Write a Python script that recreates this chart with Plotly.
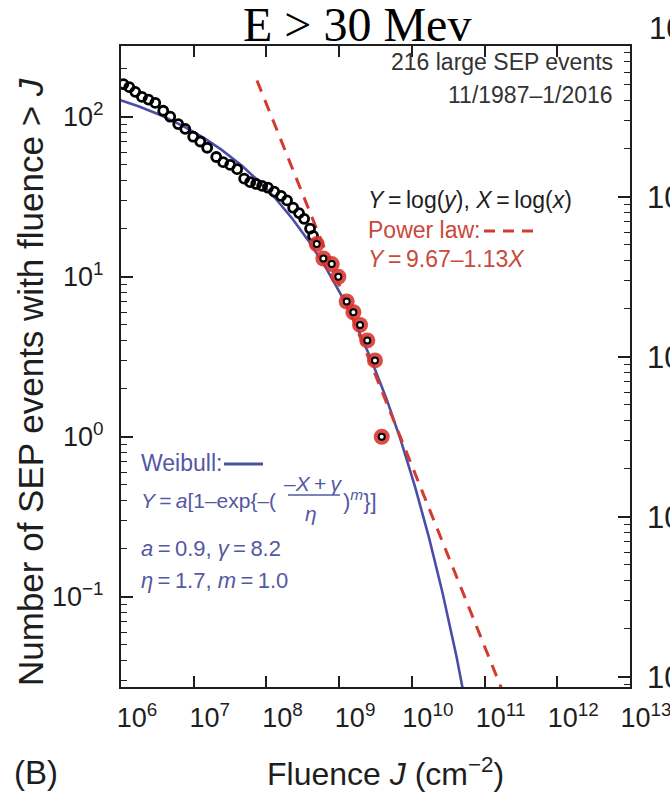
import numpy as np
import plotly.graph_objects as go

# ---- Observed cumulative counts (E > 30 MeV), 11/1987 - 1/2016 ----
fluence_obs = [1.08e6, 1.30e6, 1.57e6, 1.94e6, 2.39e6, 2.96e6, 3.81e6, 4.75e6,
               6.12e6, 7.64e6, 9.84e6, 1.23e7, 1.53e7, 2.04e7, 2.54e7, 3.17e7,
               3.96e7, 4.94e7, 5.97e7, 7.23e7, 8.73e7, 1.05e8, 1.28e8, 1.59e8,
               1.92e8, 2.33e8, 2.81e8, 3.30e8, 3.98e8, 4.38e8]
count_obs = [160, 153, 143, 133, 128, 122, 109, 100,
             90, 84, 75, 70, 64, 56, 52, 50,
             47, 41, 39, 38, 37, 36, 34, 32,
             30, 27, 25, 23, 20, 18]

# Largest events used in the power-law tail fit
fluence_tail = [4.92e8, 6.07e8, 7.91e8, 9.75e8, 1.27e9, 1.57e9, 1.94e9,
                2.44e9, 3.11e9, 3.85e9]
count_tail = [16, 13, 12, 10, 7, 6, 5, 4, 3, 1]

# ---- Fit parameters (Y = log of yearly rate, X = log fluence) ----
start_year, start_month = 1987, 11
end_year, end_month = 2016, 1
record_years = (end_year + (end_month - 1) / 12) - (start_year + (start_month - 1) / 12)

pl_intercept, pl_slope = 9.67, -1.13
wb_a, wb_gamma, wb_eta, wb_m = 0.9, 8.2, 1.7, 1.0

X_wb = np.arange(5.9, 10.9, 0.01)
Y_wb = wb_a * (1 - np.exp(-(((-X_wb + wb_gamma) / wb_eta) ** wb_m)))
N_wb = record_years * 10 ** Y_wb

X_pl = np.arange(7.87, 11.6, 0.01)
Y_pl = pl_intercept + pl_slope * X_pl
N_pl = record_years * 10 ** Y_pl

# ---- axis ranges (log10) and tick decades ----
x_range = [6.0, 13.0]
y_range = [-1.564, 2.442]
x_decades = [6, 7, 8, 9, 10, 11, 12, 13]
y_decades = [-1, 0, 1, 2]
right_offset = 0.5
y2_decades = [-1, 0, 1, 2]


def pow_label(k):
    return "10<sup>%s</sup>" % (str(k).replace("-", "−"))


BLUE = "#4b4ea6"
BLUE_TXT = "#5557a3"
RED = "#d23b30"
RED_TXT = "#c9493c"
INK = "#1e1e1e"
SANS = "Liberation Sans, Arial, sans-serif"

W, H = 670, 795
ML, MR, MT, MB = 121, 40, 46, 108
PW, PH = W - ML - MR, H - MT - MB


def fx(p):
    return (p - ML) / PW


def fy(p):
    return (H - MB - p) / PH


fig = go.Figure()

fig.add_trace(go.Scatter(x=10 ** X_wb, y=N_wb, mode="lines",
                         line=dict(color=BLUE, width=2.6), hoverinfo="skip"))
fig.add_trace(go.Scatter(x=10 ** X_pl, y=N_pl, mode="lines",
                         line=dict(color=RED, width=3, dash="12px,9px"),
                         hoverinfo="skip"))
fig.add_trace(go.Scatter(x=fluence_obs, y=count_obs, mode="markers",
                         marker=dict(symbol="circle-open", size=9, color="black",
                                     line=dict(color="black", width=2.8))))
fig.add_trace(go.Scatter(x=fluence_tail, y=count_tail, mode="markers",
                         marker=dict(symbol="circle", size=16, color="rgba(214,52,44,0.88)",
                                     line=dict(width=0))))
fig.add_trace(go.Scatter(x=fluence_tail, y=count_tail, mode="markers",
                         marker=dict(symbol="circle", size=6, color="white",
                                     line=dict(color="black", width=2))))
fig.add_trace(go.Scatter(x=[], y=[], yaxis="y2", mode="markers"))

tick_font = dict(family=SANS, size=27, color=INK)
fig.update_layout(
    width=W, height=H,
    margin=dict(l=ML, r=MR, t=MT, b=MB, autoexpand=False),
    paper_bgcolor="white", plot_bgcolor="white",
    showlegend=False,
    xaxis=dict(type="log", range=x_range, automargin=False,
               tickmode="array", tickvals=[10 ** k for k in x_decades],
               ticktext=[pow_label(k) for k in x_decades], tickangle=0,
               showgrid=False, zeroline=False,
               showline=True, linecolor=INK, linewidth=2, mirror="ticks",
               ticks="inside", ticklen=11, tickwidth=1.5, tickcolor=INK,
               tickfont=tick_font, ticklabelshift=16, ticklabelstandoff=6,
               ticklabeloverflow="allow"),
    yaxis=dict(type="log", range=y_range, automargin=False,
               tickmode="array", tickvals=[10.0 ** k for k in y_decades],
               ticktext=[pow_label(k) for k in y_decades],
               showgrid=False, zeroline=False,
               showline=True, linecolor=INK, linewidth=2, mirror=True,
               ticks="inside", ticklen=12, tickwidth=1.5, tickcolor=INK,
               minor=dict(ticks="inside", ticklen=6, tickwidth=1.2, tickcolor=INK,
                          dtick="D1", showgrid=False),
               tickfont=tick_font, ticklabelstandoff=10),
    yaxis2=dict(type="log", overlaying="y", side="right", anchor="x", automargin=False,
                range=[y_range[0] + right_offset, y_range[1] + right_offset],
                tickmode="array", tickvals=[10.0 ** k for k in y2_decades],
                ticktext=[pow_label(k) for k in y2_decades],
                showgrid=False, zeroline=False, showline=False,
                ticks="inside", ticklen=12, tickwidth=1.5, tickcolor=INK,
                minor=dict(ticks="inside", ticklen=6, tickwidth=1.2, tickcolor=INK,
                           dtick="D1", showgrid=False),
                tickfont=dict(family=SANS, size=31, color=INK), ticklabelstandoff=16,
                ticklabeloverflow="allow"),
)

ann = []
TS = "\u2009"  # thin space


def add_text(text, x, y, size=23, color=INK, xanchor="left", family=SANS, angle=0):
    ann.append(dict(text=text, x=fx(x), y=fy(y), xref="paper", yref="paper",
                    showarrow=False, xanchor=xanchor, yanchor="middle",
                    textangle=angle, font=dict(family=family, size=size, color=color)))


add_text("E &gt; 30 Mev", 357, 24, size=48, xanchor="center",
         family="Liberation Serif, Times New Roman, serif", color="black")
add_text("Number of SEP events with fluence &gt; <i>J</i>", 30, 382, size=35,
         xanchor="center", angle=-90)
add_text("Fluence <i>J</i> (cm<sup>−2</sup>)", 385, 772, size=32, xanchor="center")
add_text("(B)", 36, 773, size=33, xanchor="center")
add_text("10", 647, 29, size=31, xanchor="left")

add_text("216 large SEP events", 615, 62, color="#333333", xanchor="right")
add_text("11/1987–1/2016", 615, 95, color="#333333", xanchor="right")
add_text(f"<i>Y</i>{TS}={TS}log(<i>y</i>), <i>X</i>{TS}={TS}log(<i>x</i>)", 366, 200)
add_text("Power law:", 366, 230, color=RED_TXT)
add_text(f"<i>Y</i>{TS}={TS}9.67–1.13<i>X</i>", 366, 259, color=RED_TXT)

add_text("Weibull:", 139, 463, color=BLUE_TXT)
add_text(f"<i>Y</i>{TS}={TS}<i>a</i>[1–exp{{–(", 139, 500, size=21, color=BLUE_TXT)
add_text(f"–<i>X</i>{TS}+{TS}<i>γ</i>", 313, 483, size=21, color=BLUE_TXT, xanchor="center")
add_text("<i>η</i>", 311, 513, size=21, color=BLUE_TXT, xanchor="center")
add_text(")<sup><i>m</i></sup>}]", 341, 500, size=22, color=BLUE_TXT)
add_text(f"<i>a</i>{TS}={TS}0.9, <i>γ</i>{TS}={TS}8.2", 139, 548, size=22, color=BLUE_TXT)
add_text(f"<i>η</i>{TS}={TS}1.7, <i>m</i>{TS}={TS}1.0", 139, 580, size=22, color=BLUE_TXT)

fig.update_layout(annotations=ann)

shapes = [
    # Weibull legend sample
    dict(type="line", xref="paper", yref="paper", x0=fx(224), x1=fx(263),
         y0=fy(464), y1=fy(464), line=dict(color=BLUE, width=3)),
    # fraction bar
    dict(type="line", xref="paper", yref="paper", x0=fx(288), x1=fx(340),
         y0=fy(495), y1=fy(495), line=dict(color=BLUE_TXT, width=1.5)),
]
for a, b in [(484, 495), (503, 514), (522, 533)]:
    shapes.append(dict(type="line", xref="paper", yref="paper", x0=fx(a), x1=fx(b),
                       y0=fy(231), y1=fy(231), line=dict(color=RED, width=3)))
fig.update_layout(shapes=shapes)

fig.write_html("out.html")
